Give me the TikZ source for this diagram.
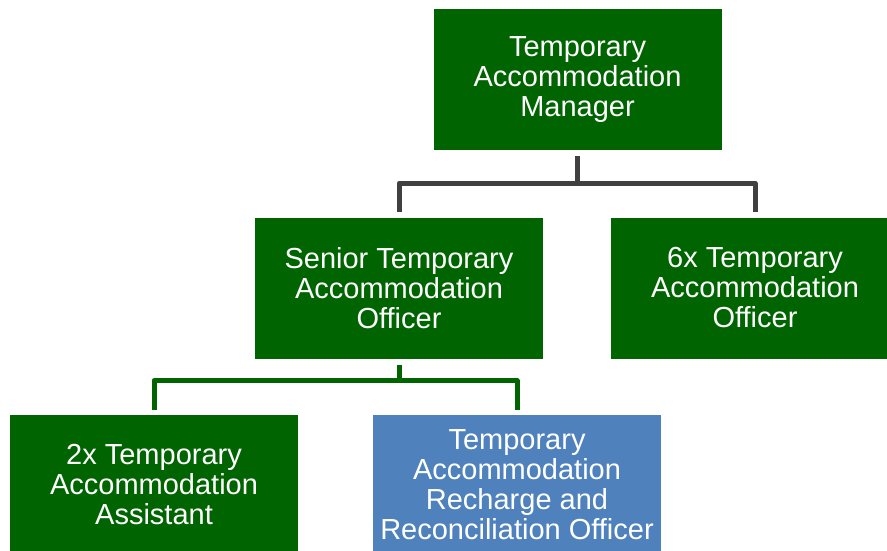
\documentclass[tikz,border=0pt]{standalone}
\usepackage{fontspec}
\setmainfont{Liberation Sans}
\usetikzlibrary{calc}
\definecolor{boxgreen}{RGB}{0,100,0}
\definecolor{boxblue}{RGB}{79,129,189}
\definecolor{linegray}{RGB}{64,64,64}
\begin{document}
\begin{tikzpicture}[x=1pt,y=-1pt,
  box/.style={rectangle, fill=boxgreen, text=white, align=center, inner sep=0pt,
    minimum width=288pt, minimum height=141pt, font=\fontsize{29}{30}\selectfont},
  bluebox/.style={box, fill=boxblue},
  link/.style={line width=5pt, line join=round, shorten <=6pt, shorten >=5pt}]
\useasboundingbox (0,0) rectangle (887,550);
\node[box] (top) at (577.5,79.5) {Temporary\\Accommodation\\Manager};
\node[box] (senior) at (399,288) {Senior Temporary\\Accommodation\\Officer};
\node[box] (six) at (755,288) {6x Temporary\\Accommodation\\Officer};
\node[box, minimum height=140pt] (two) at (154,485) {2x Temporary\\Accommodation\\Assistant};
\node[bluebox, minimum height=140pt] (rec) at (517,485) {Temporary\\Accommodation\\Recharge and\\Reconciliation Officer};
\draw[link, linegray] (top.south) -- ++(0,33) -| (senior.north);
\draw[link, linegray] (top.south) -- ++(0,33) -| (six.north);
\draw[link, boxgreen] (senior.south) -- ++(0,22) -| (two.north);
\draw[link, boxgreen] (senior.south) -- ++(0,22) -| (rec.north);
\end{tikzpicture}
\end{document}
